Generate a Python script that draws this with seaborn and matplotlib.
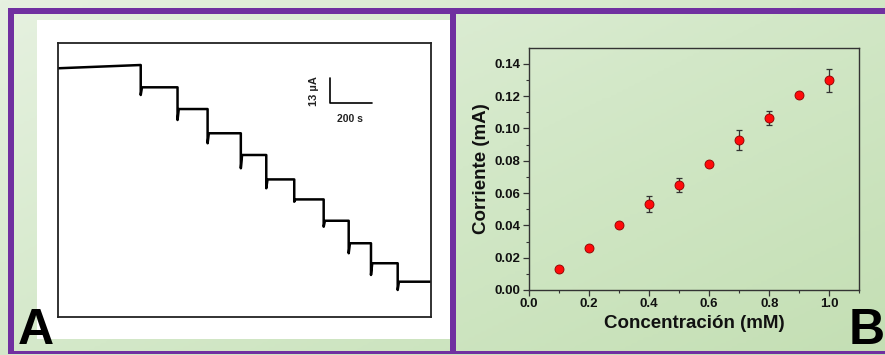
import numpy as np
import pandas as pd
import matplotlib
matplotlib.use("Agg")
import matplotlib.pyplot as plt
from matplotlib.patches import Rectangle
from matplotlib.colors import LinearSegmentedColormap
import seaborn as sns

# ---------------- data ----------------
# Panel A: amperometric step trace (time in s, current in uA)
step_times = [392, 567, 710, 868, 989, 1122, 1262, 1381, 1487, 1614]
level_start = 129.2
level_before_first_step = 130.9
levels = [119.3, 108.0, 95.4, 84.1, 71.4, 61.0, 49.9, 38.2, 27.8, 18.2]
dips = [115.3, 102.3, 90.2, 77.2, 66.8, 59.8, 46.8, 33.0, 21.7, 13.9]
t_end = 1770
scale_current = 13    # uA
scale_time = 200      # s

# Panel B: calibration
conc = [0.1, 0.2, 0.3, 0.4, 0.5, 0.6, 0.7, 0.8, 0.9, 1.0]
current = [0.0132, 0.0262, 0.0400, 0.0532, 0.0650, 0.0780, 0.0928, 0.1065, 0.1207, 0.1297]
err = [0.0008, 0.0008, 0.0012, 0.0047, 0.0042, 0.0008, 0.0063, 0.0042, 0.0008, 0.0073]
xticks_b = [0.0, 0.2, 0.4, 0.6, 0.8, 1.0]
yticks_b = [0.00, 0.02, 0.04, 0.06, 0.08, 0.10, 0.12, 0.14]

# ---------------- style ----------------
sns.set_theme(style="ticks")
plt.rcParams["font.family"] = ["Liberation Sans", "DejaVu Sans"]
plt.rcParams["font.weight"] = "bold"

W, H = 885, 355
fig = plt.figure(figsize=(W / 100, H / 100), dpi=100)

def px_rect(x0, y0, x1, y1):
    # convert pixel box (top-left origin) to figure fraction [l, b, w, h]
    return [x0 / W, 1 - y1 / H, (x1 - x0) / W, (y1 - y0) / H]

# background gradient
bg = fig.add_axes([0, 0, 1, 1], zorder=-10)
gx, gy = np.meshgrid(np.linspace(0, 1, 300), np.linspace(0, 1, 120))
g = np.clip(0.55 * gx + 0.45 * gy, 0, 1)
cmap = LinearSegmentedColormap.from_list("g", ["#e6f1e0", "#d3e8c8", "#c4dfb4"])
bg.imshow(g, cmap=cmap, aspect="auto", extent=[0, 1, 0, 1], origin="upper")
bg.set_xlim(0, 1); bg.set_ylim(0, 1)
bg.axis("off")

purple = "#7030a0"
def fig_rect(x0, y0, x1, y1, color, z=1):
    l, b, w, h = px_rect(x0, y0, x1, y1)
    fig.patches.append(Rectangle((l, b), w, h, transform=fig.transFigure,
                                 facecolor=color, edgecolor="none", zorder=z))

# white area of panel A
fig_rect(37, 20, 450, 339, "white", z=-5)
# purple frames
fig_rect(8, 8, 885, 14, purple, z=2)
fig_rect(8, 8, 14, 354, purple, z=2)
fig_rect(450, 8, 456, 354, purple, z=2)
fig_rect(8, 351, 885, 354, purple, z=2)

# ---------------- Panel A ----------------
axA = fig.add_axes(px_rect(58.3, 42.7, 430.5, 316.7), zorder=1)
axA.set_facecolor("white")
tx = [0]
ty = [level_start]
prev = level_before_first_step
for t, lv, d in zip(step_times, levels, dips):
    tx += [t, t, t + 6]
    ty += [prev, d, lv]
    prev = lv
tx.append(t_end)
ty.append(prev)
trace = pd.DataFrame({"t": tx, "i": ty})
sns.lineplot(data=trace, x="t", y="i", ax=axA, sort=False, estimator=None,
             color="black", linewidth=1.8)
axA.set_xlim(0, t_end)
axA.set_ylim(0, 142.5)
axA.set_xticks([]); axA.set_yticks([])
axA.set_xlabel(""); axA.set_ylabel("")
for s in axA.spines.values():
    s.set_linewidth(1.3)
    s.set_color("#222222")
# scale bar
cx, cy = 1294, 111.1
axA.plot([cx, cx, cx + scale_time], [cy + scale_current, cy, cy],
         color="black", linewidth=1.2)
axA.text(cx - 80, cy + 6.5, f"{scale_current} µA", rotation=90, ha="center",
         va="center", fontsize=8, fontweight="bold", color="#222222")
axA.text(cx + 95, cy - 8.5, f"{scale_time} s", ha="center", va="center",
         fontsize=7.5, fontweight="bold", color="#222222")

# ---------------- Panel B ----------------
axB = fig.add_axes(px_rect(529, 47.7, 859.3, 290), zorder=1)
axB.patch.set_alpha(0)
dfb = pd.DataFrame({"c": conc, "i": current, "e": err})
axB.errorbar(dfb["c"], dfb["i"], yerr=dfb["e"], fmt="none", ecolor="#333333",
             elinewidth=0.9, capsize=2, capthick=0.9, zorder=2)
sns.scatterplot(data=dfb, x="c", y="i", ax=axB, color="#ff0a0a",
                edgecolor="#8a0000", linewidth=0.6, s=42, zorder=3)
axB.set_xlim(0, 1.1)
axB.set_ylim(0, 0.15)
axB.set_xticks(xticks_b)
axB.set_xticklabels([f"{v:.1f}" for v in xticks_b])
axB.set_yticks(yticks_b)
axB.set_yticklabels([f"{v:.2f}" for v in yticks_b])
axB.set_xticks(np.arange(0.1, 1.11, 0.2), minor=True)
axB.set_yticks(np.arange(0.01, 0.15, 0.02), minor=True)
axB.tick_params(which="major", direction="out", length=4, width=0.9,
                labelsize=9.5, pad=2, colors="#333333", labelcolor="#111111")
axB.tick_params(which="minor", direction="out", length=2.5, width=0.8,
                colors="#333333")
for lab in axB.get_xticklabels() + axB.get_yticklabels():
    lab.set_fontweight("bold")
for s in axB.spines.values():
    s.set_linewidth(1.0)
    s.set_color("#333333")
axB.set_xlabel("Concentración (mM)", fontsize=13.5, fontweight="bold",
               color="#111111", labelpad=3)
axB.set_ylabel("Corriente (mA)", fontsize=13.5, fontweight="bold",
               color="#111111", labelpad=3)

# panel letters
fig.text(18 / W, 1 - 344 / H, "A", fontsize=36, fontweight="bold",
         color="black", ha="left", va="baseline", zorder=5)
fig.text(849 / W, 1 - 344 / H, "B", fontsize=36, fontweight="bold",
         color="black", ha="left", va="baseline", zorder=5)

fig.savefig("out.png", dpi=100)
